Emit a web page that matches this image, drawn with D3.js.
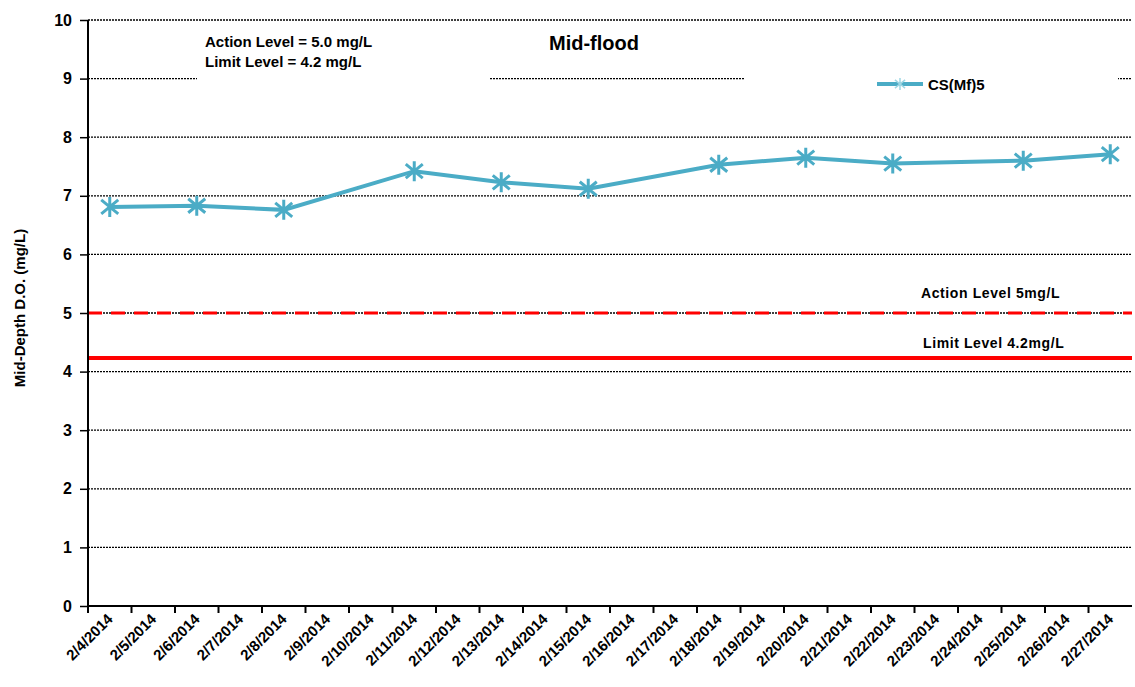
<!DOCTYPE html>
<html>
<head>
<meta charset="utf-8">
<script src="https://cdn.jsdelivr.net/npm/d3@7"></script>
<style>
  body { margin: 0; background: #fff; }
  text { font-family: "Liberation Sans", Arial, sans-serif; font-weight: bold; }
</style>
</head>
<body>
<div id="chart"></div>
<script>
var dates = ["2/4/2014","2/5/2014","2/6/2014","2/7/2014","2/8/2014","2/9/2014","2/10/2014","2/11/2014",
  "2/12/2014","2/13/2014","2/14/2014","2/15/2014","2/16/2014","2/17/2014","2/18/2014","2/19/2014",
  "2/20/2014","2/21/2014","2/22/2014","2/23/2014","2/24/2014","2/25/2014","2/26/2014","2/27/2014"];
var sampleDates = ["2/4/2014","2/6/2014","2/8/2014","2/11/2014","2/13/2014","2/15/2014",
  "2/18/2014","2/20/2014","2/22/2014","2/25/2014","2/27/2014"];
var doValues = [6.81, 6.83, 6.76, 7.42, 7.23, 7.12, 7.53, 7.65, 7.55, 7.60, 7.71];
var yTicks = [0,1,2,3,4,5,6,7,8,9,10];
var actionLevel = 5;
var limitLevel = 4.2;

var width = 1135, height = 687;
var pLeft = 88, pRight = 1132, pTop = 20, pBottom = 606;

var svg = d3.select("#chart").append("svg")
    .attr("width", width)
    .attr("height", height);

var x = d3.scaleBand().domain(dates).range([pLeft, pRight]);
var y = d3.scaleLinear().domain([0, 10]).range([pBottom, pTop]);

// gridlines
svg.append("g").selectAll("line")
    .data(yTicks.filter(function(d) { return d > 0; }))
    .enter().append("line")
    .attr("x1", pLeft).attr("x2", pRight)
    .attr("y1", function(d) { return y(d); })
    .attr("y2", function(d) { return y(d); })
    .attr("stroke", "#000")
    .attr("stroke-width", 1.3)
    .attr("stroke-dasharray", "2,1");

// action / limit lines
svg.append("line")
    .attr("x1", pLeft).attr("x2", pRight)
    .attr("y1", y(actionLevel)).attr("y2", y(actionLevel))
    .attr("stroke", "#ff0000").attr("stroke-width", 3)
    .attr("stroke-dasharray", "14,9");
svg.append("line")
    .attr("x1", pLeft).attr("x2", pRight)
    .attr("y1", y(limitLevel) - 2).attr("y2", y(limitLevel) - 2)
    .attr("stroke", "#ff0000").attr("stroke-width", 4);

svg.append("text").attr("x", 921).attr("y", y(actionLevel) - 15)
    .attr("font-size", 14).attr("letter-spacing", 0.6).text("Action Level 5mg/L");
svg.append("text").attr("x", 923).attr("y", y(limitLevel) - 12)
    .attr("font-size", 14).attr("letter-spacing", 0.6).text("Limit Level 4.2mg/L");

// white boxes behind text (cover gridlines)
svg.append("rect").attr("x", 197).attr("y", 28).attr("width", 293).attr("height", 55).attr("fill", "#fff");
svg.append("rect").attr("x", 745).attr("y", 66).attr("width", 373).attr("height", 36).attr("fill", "#fff");

svg.append("text").attr("x", 205).attr("y", 47).attr("font-size", 15).text("Action Level = 5.0 mg/L");
svg.append("text").attr("x", 205).attr("y", 67).attr("font-size", 15).text("Limit Level = 4.2 mg/L");
svg.append("text").attr("x", 549).attr("y", 50).attr("font-size", 20).text("Mid-flood");

// axes
svg.append("line").attr("x1", pLeft).attr("x2", pLeft).attr("y1", pTop).attr("y2", pBottom)
    .attr("stroke", "#000").attr("stroke-width", 2);
svg.append("line").attr("x1", pLeft).attr("x2", pRight).attr("y1", pBottom).attr("y2", pBottom)
    .attr("stroke", "#000").attr("stroke-width", 2);

var yAxis = svg.append("g").attr("transform", "translate(" + pLeft + ",0)")
    .call(d3.axisLeft(y).tickValues(yTicks).tickSize(8).tickPadding(8).tickFormat(d3.format("d")));
yAxis.select(".domain").remove();
yAxis.selectAll("text").attr("font-size", 16).attr("fill", "#000");
yAxis.selectAll("line").attr("stroke-width", 1.5);

// x tick marks at category boundaries
svg.append("g").selectAll("line")
    .data(dates)
    .enter().append("line")
    .attr("x1", function(d) { return x(d); })
    .attr("x2", function(d) { return x(d); })
    .attr("y1", pBottom).attr("y2", pBottom + 7)
    .attr("stroke", "#000").attr("stroke-width", 2);

svg.append("g").selectAll("text")
    .data(dates)
    .enter().append("text")
    .attr("transform", function(d) {
        return "translate(" + (x(d) + x.bandwidth() / 2 + 4) + "," + (pBottom + 14) + ") rotate(-45)";
    })
    .attr("text-anchor", "end")
    .attr("font-size", 15)
    .text(function(d) { return d; });

svg.append("text")
    .attr("transform", "translate(25," + ((pTop + pBottom) / 2 - 5) + ") rotate(-90)")
    .attr("text-anchor", "middle")
    .attr("font-size", 15)
    .text("Mid-Depth D.O. (mg/L)");

// series
var color = "#4bacc6";
var pts = sampleDates.map(function(d, i) { return { date: d, v: doValues[i] }; });
var line = d3.line()
    .x(function(d) { return x(d.date) + x.bandwidth() / 2; })
    .y(function(d) { return y(d.v); });
svg.append("path").datum(pts)
    .attr("d", line)
    .attr("fill", "none")
    .attr("stroke", color)
    .attr("stroke-width", 4);

// Excel-style star marker: vertical stroke plus an X
function starPath(r) {
    var p = d3.path();
    p.moveTo(0, -r); p.lineTo(0, r);
    p.moveTo(-r * 0.85, -r * 0.7); p.lineTo(r * 0.85, r * 0.7);
    p.moveTo(-r * 0.85, r * 0.7); p.lineTo(r * 0.85, -r * 0.7);
    return p.toString();
}

svg.append("g").selectAll("path")
    .data(pts)
    .enter().append("path")
    .attr("transform", function(d) {
        return "translate(" + (x(d.date) + x.bandwidth() / 2) + "," + y(d.v) + ")";
    })
    .attr("d", starPath(10))
    .attr("fill", "none")
    .attr("stroke", color)
    .attr("stroke-width", 3);

// legend
svg.append("line").attr("x1", 877).attr("x2", 923).attr("y1", 84).attr("y2", 84)
    .attr("stroke", color).attr("stroke-width", 4);
svg.append("path").attr("transform", "translate(900,84)")
    .attr("d", starPath(6))
    .attr("fill", "none").attr("stroke", "#9fd7e4").attr("stroke-width", 1.5);
svg.append("text").attr("x", 928).attr("y", 90).attr("font-size", 15).text("CS(Mf)5");
</script>
</body>
</html>
